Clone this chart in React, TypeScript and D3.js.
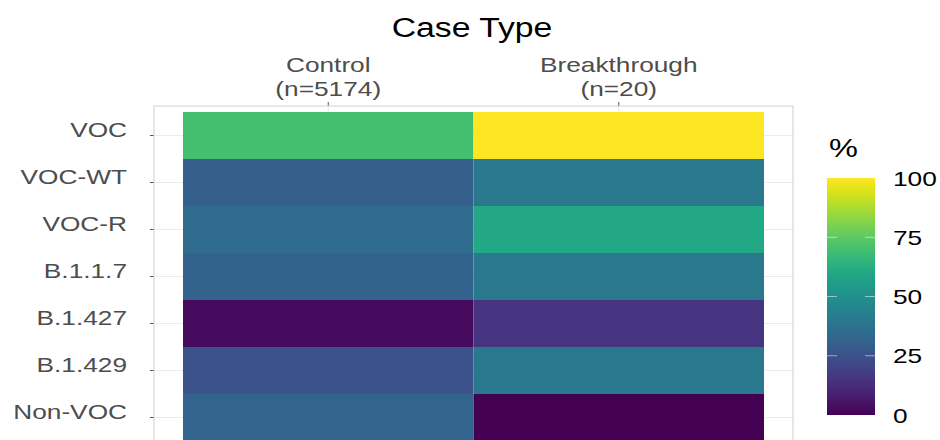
import React from 'react';
import * as d3 from 'd3';

const caseTypes = ['Control', 'Breakthrough'];
const caseCounts = ['(n=5174)', '(n=20)'];
const lineages = ['VOC', 'VOC-WT', 'VOC-R', 'B.1.1.7', 'B.1.427', 'B.1.429', 'Non-VOC'];
const controlPct = [70, 30, 35, 31, 3, 25, 32];
const breakthroughPct = [100, 40, 60, 40, 15, 40, 0];
const legendTicks = [0, 25, 50, 75, 100];

const W = 940;
const H = 440;
const SX = 1.25; // text in the source is stretched horizontally
const FONT = '"Liberation Sans", Arial, sans-serif';

const panel = { left: 154, right: 793, top: 106, bottom: 470 };

const App: React.FC = () => {
  const cells = lineages.flatMap((l, i) => [
    { row: l, col: caseTypes[0], v: controlPct[i] },
    { row: l, col: caseTypes[1], v: breakthroughPct[i] },
  ]);

  const x = d3.scaleBand<string>().domain(caseTypes).range([183, 764]);
  const y = d3.scaleBand<string>().domain(lineages).range([112, 112 + 47 * lineages.length]);
  const color = d3.scaleSequential(d3.interpolateViridis).domain([0, 100]);

  const leg = d3.scaleLinear().domain([0, 100]).range([415, 178]);
  const legX = 827;
  const legW = 48;
  const stops = d3.range(0, 1.0001, 0.05);

  const txt = (tx: number, ty: number) => `translate(${tx},${ty}) scale(${SX},1)`;

  return (
    <svg width={W} height={H} style={{ position: 'absolute', left: 0, top: 0, background: '#fff' }}>
      <defs>
        <linearGradient id="vir" x1="0" y1="1" x2="0" y2="0">
          {stops.map((s) => (
            <stop key={s} offset={s} stopColor={color(s * 100)} />
          ))}
        </linearGradient>
        <clipPath id="clip">
          <rect x={0} y={0} width={W} height={H} />
        </clipPath>
      </defs>

      {/* title */}
      <text transform={txt(472, 37)} textAnchor="middle" fontFamily={FONT} fontSize={27} fill="#000">
        Case Type
      </text>

      {/* column labels */}
      {caseTypes.map((c, i) => {
        const cx = x(c)! + x.bandwidth() / 2;
        return (
          <g key={c} fontFamily={FONT} fontSize={21} fill="#4d4d4d" textAnchor="middle">
            <text transform={txt(cx, 72)}>{c}</text>
            <text transform={txt(cx, 96)}>{caseCounts[i]}</text>
            <line x1={cx} x2={cx} y1={panel.top - 4} y2={panel.top} stroke="#555" strokeWidth={1} />
          </g>
        );
      })}

      <g clipPath="url(#clip)">
        {/* grid */}
        {lineages.map((l) => {
          const cy = y(l)! + y.bandwidth() / 2;
          return (
            <g key={l}>
              <line x1={panel.left} x2={panel.right} y1={cy} y2={cy} stroke="#ebebeb" strokeWidth={1} />
              <line x1={panel.left - 4} x2={panel.left} y1={cy} y2={cy} stroke="#555" strokeWidth={1} />
            </g>
          );
        })}
        {caseTypes.map((c) => {
          const cx = x(c)! + x.bandwidth() / 2;
          return <line key={c} x1={cx} x2={cx} y1={panel.top} y2={panel.bottom} stroke="#ebebeb" />;
        })}

        {/* tiles */}
        {cells.map((d) => (
          <rect
            key={d.row + d.col}
            x={x(d.col)}
            y={y(d.row)}
            width={x.bandwidth()}
            height={y.bandwidth()}
            fill={color(d.v)}
          />
        ))}

        {/* panel border */}
        <rect
          x={panel.left}
          y={panel.top}
          width={panel.right - panel.left}
          height={panel.bottom - panel.top}
          fill="none"
          stroke="#cfcfcf"
          strokeWidth={1}
        />
      </g>

      {/* row labels */}
      {lineages.map((l) => {
        const cy = y(l)! + y.bandwidth() / 2;
        return (
          <text key={l} transform={txt(127, cy + 1)} textAnchor="end" fontFamily={FONT} fontSize={21} fill="#4d4d4d">
            {l}
          </text>
        );
      })}

      {/* legend */}
      <text transform={txt(829, 157)} fontFamily={FONT} fontSize={26} fill="#000">
        %
      </text>
      <rect x={legX} y={leg(100)} width={legW} height={leg(0) - leg(100)} fill="url(#vir)" />
      {legendTicks.map((t) => (
        <g key={t}>
          {t > 0 && t < 100 && (
            <>
              <line x1={legX} x2={legX + 10} y1={leg(t)} y2={leg(t)} stroke="#fff" strokeOpacity={0.5} />
              <line x1={legX + legW - 10} x2={legX + legW} y1={leg(t)} y2={leg(t)} stroke="#fff" strokeOpacity={0.5} />
            </>
          )}
          <text transform={txt(893, leg(t) + 7.5)} fontFamily={FONT} fontSize={21} fill="#000">
            {t}
          </text>
        </g>
      ))}
    </svg>
  );
};

export default App;
